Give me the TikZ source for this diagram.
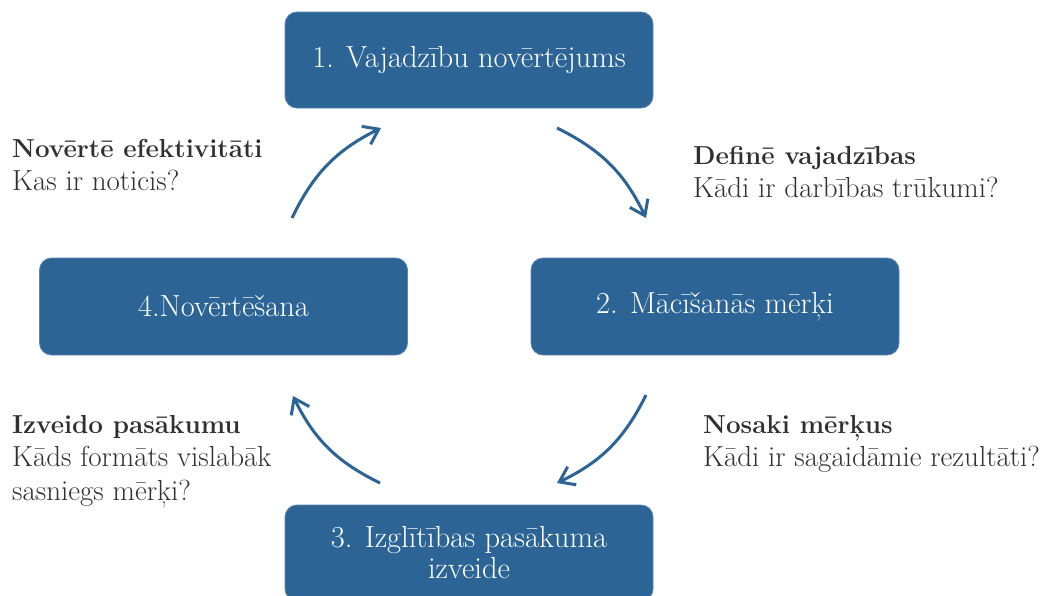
\documentclass[tikz,border=0pt]{standalone}
\usepackage{fontspec}
\usetikzlibrary{arrows.meta}
\definecolor{boxblue}{HTML}{2C6496}
\definecolor{boxedge}{HTML}{5A86B3}
\definecolor{labelgray}{HTML}{303030}
\newcommand{\lblhead}[1]{{\fontsize{26}{33.5}\selectfont\bfseries #1}}
\begin{document}
\begin{tikzpicture}[x=1pt,y=-1pt,
  stagebox/.style={draw=boxedge, line width=0.8pt, fill=boxblue, rounded corners=12pt,
    minimum width=368pt, minimum height=96pt, text=white, align=center, inner sep=0pt,
    font=\fontsize{30.5}{31}\selectfont},
  lbl/.style={text=labelgray, align=left, inner sep=0pt, anchor=base west,
    font=\fontsize{29}{33.5}\selectfont},
  cyc/.style={draw=boxblue, line width=3pt,
    -{Straight Barb[length=14pt,width=20pt]}, bend left=19}]
\useasboundingbox (0,0) rectangle (1040,595);
\clip (0,0) rectangle (1040,595);
\fill[white] (0,0) rectangle (1040,595);

\node[stagebox] (s1) at (469,60) {1. Vajadzību novērtējums};
\node[stagebox, minimum height=97pt] (s2) at (715,306.5) {2. Mācīšanās mērķi};
\node[stagebox] (s3) at (469,553) {3. Izglītības pasākuma\\izveide};
\node[stagebox, minimum height=97pt] (s4) at (223.5,306.5) {4.Novērtēšana};

\node[lbl] (l1) at (12,190.5) {\lblhead{Novērtē efektivitāti}\\Kas ir noticis?};
\node[lbl] (l2) at (693,197.5) {\lblhead{Definē vajadzības}\\Kādi ir darbības trūkumi?};
\node[lbl] (l3) at (12,500) {\lblhead{Izveido pasākumu}\\Kāds formāts vislabāk\\sasniegs mērķi?};
\node[lbl] (l4) at (703,466.5) {\lblhead{Nosaki mērķus}\\Kādi ir sagaidāmie rezultāti?};

\coordinate (a1s) at (557,128);
\coordinate (a1e) at (646,218);
\coordinate (a2s) at (646,395);
\coordinate (a2e) at (557,483);
\coordinate (a3s) at (380,483);
\coordinate (a3e) at (293,396);
\coordinate (a4s) at (292,218);
\coordinate (a4e) at (381,128);

\draw[cyc] (a1s) to (a1e);
\draw[cyc] (a2s) to (a2e);
\draw[cyc] (a3s) to (a3e);
\draw[cyc] (a4s) to (a4e);
\end{tikzpicture}
\end{document}
